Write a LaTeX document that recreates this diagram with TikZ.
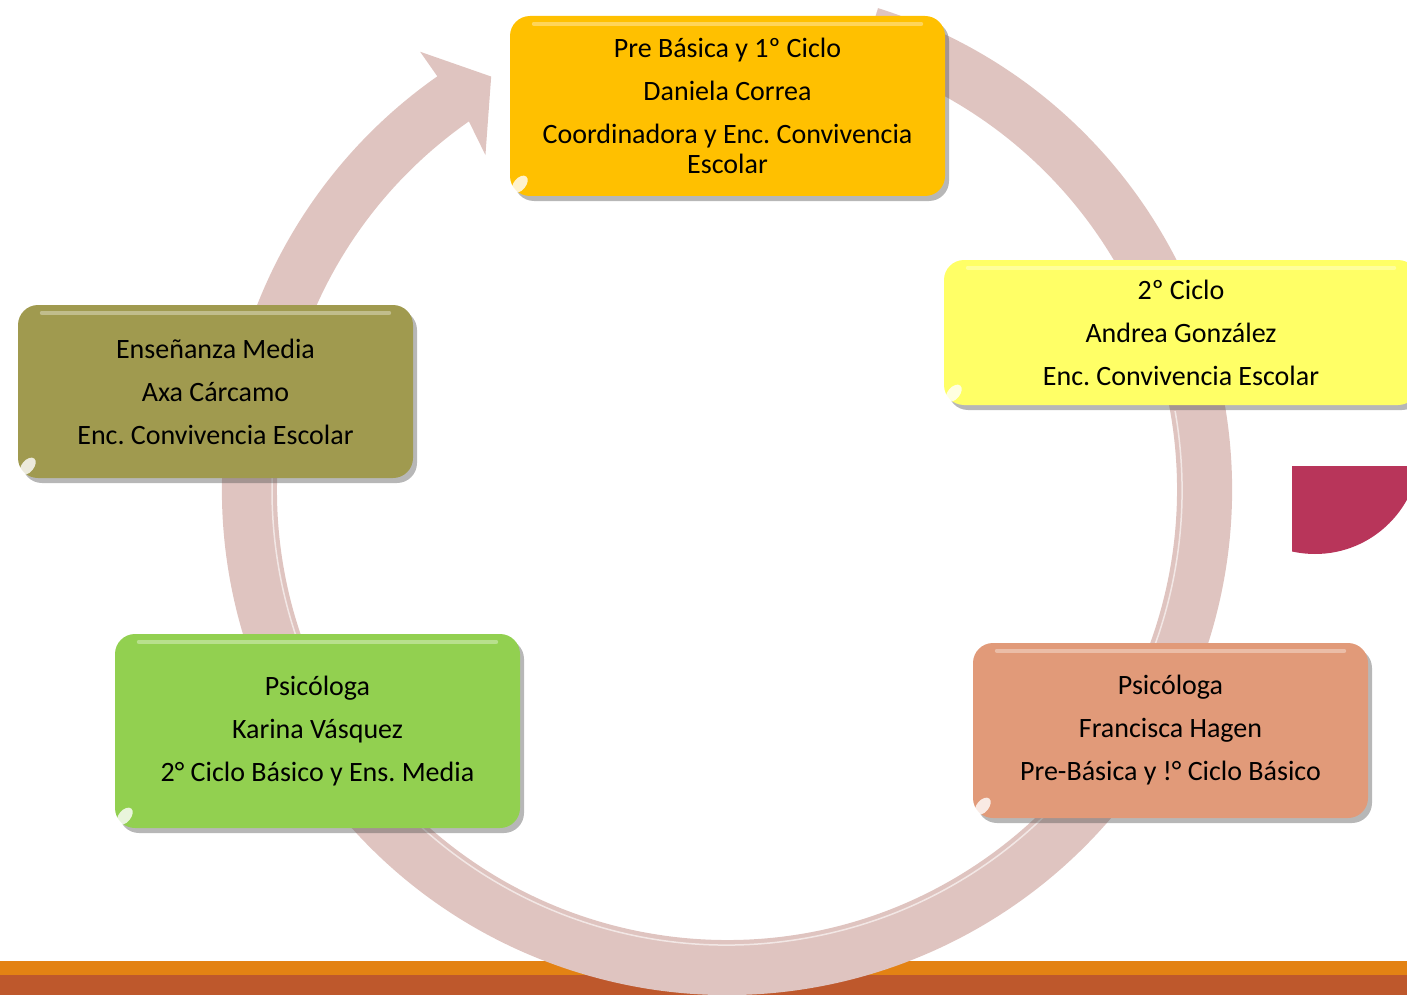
\documentclass[tikz,border=0pt]{standalone}
\usepackage{fontspec}
\setmainfont{Carlito}
\usepackage{tikz}
\usetikzlibrary{positioning,shadows,calc}
\frenchspacing
\definecolor{ringc}{HTML}{DFC4C0}
\definecolor{gold}{HTML}{FFC000}
\definecolor{lemon}{HTML}{FFFF66}
\definecolor{olive}{HTML}{A09A4F}
\definecolor{leaf}{HTML}{92D050}
\definecolor{salmon}{HTML}{E19A79}
\definecolor{berry}{HTML}{B8355A}
\definecolor{barA}{HTML}{E38213}
\definecolor{barB}{HTML}{BE582C}
\tikzset{
  box/.style={rounded corners=20pt, inner sep=0pt, align=center,
              font=\fontsize{28}{30}\selectfont,
              drop shadow={shadow xshift=4pt, shadow yshift=-5pt, opacity=.4, fill=black!70}},
  gloss/.style={fill=white, opacity=.8},
  ring/.style={fill=ringc},
}

\begin{document}
\begin{tikzpicture}[x=1pt,y=-1pt]
  \clip (0,0) rectangle (1407,995);
  % bottom bars and corner shape
  \fill[barA] (0,961) rectangle (1407,975);
  \fill[barB] (0,975) rectangle (1407,995);
  \begin{scope}
    \clip (1292,466) rectangle (1407,600);
    \fill[berry] (1315,449) circle[radius=105];
  \end{scope}
  % circular arrow
  \begin{scope}[shift={(727,490)},yscale=-1]
    \fill[ring] (72.6:505) arc[start angle=72.6, end angle=-235, radius=505]
      -- (-235:535) -- (-240.3:476) -- (-234.2:413) -- (-235:450)
      arc[start angle=-235, end angle=72.6, radius=450] -- cycle;
    \draw[white,opacity=.6,line width=1.5pt] (10:455) arc[start angle=10, end angle=-200, radius=455];
  \end{scope}
  % boxes
  \node[box,fill=gold,minimum width=435,minimum height=180] (pre) at (727.5,106)
    {Pre Básica y 1º Ciclo\\[13pt] Daniela Correa\\[13pt] Coordinadora y Enc. Convivencia\\Escolar};
  \node[box,fill=lemon,minimum width=474,minimum height=145] (ciclo2) at (1181,332.5)
    {2º Ciclo\\[13pt] Andrea González\\[13pt] Enc. Convivencia Escolar};
  \node[box,fill=olive,minimum width=395,minimum height=173] (media) at (215.5,391.5)
    {Enseñanza Media\\[13pt] Axa Cárcamo\\[13pt] Enc. Convivencia Escolar};
  \node[box,fill=leaf,minimum width=405,minimum height=194] (psicK) at (317.5,731)
    {Psicóloga\\[13pt] Karina Vásquez\\[13pt] 2° Ciclo Básico y Ens. Media};
  \node[box,fill=salmon,minimum width=395,minimum height=175] (psicF) at (1170.5,730.5)
    {Psicóloga\\[13pt] Francisca Hagen\\[13pt] Pre-Básica y !° Ciclo Básico};
  % gloss spots
  \foreach \b in {pre,ciclo2,media,psicK,psicF}{
    \fill[gloss] ([shift={(10,-12)}]\b.south west) ellipse[x radius=6, y radius=10, rotate=-40];
    \draw[white,opacity=.35,line width=4pt,line cap=round] ([shift={(24,8)}]\b.north west) -- ([shift={(-24,8)}]\b.north east);
  }
\end{tikzpicture}
\end{document}
